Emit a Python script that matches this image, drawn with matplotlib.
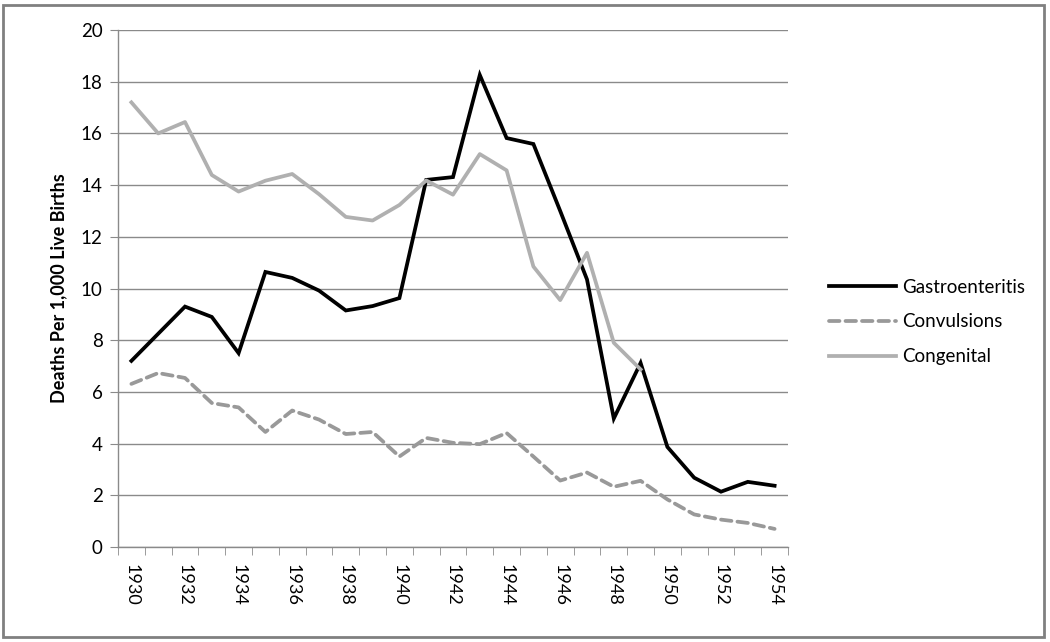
import matplotlib
matplotlib.use("Agg")
import matplotlib.pyplot as plt
from matplotlib.patches import Rectangle

years = list(range(1930, 1955))
year_labels = [str(y) if (y % 2 == 0) else "" for y in years]

gastroenteritis = [7.2, 8.25, 9.3, 8.9, 7.5, 10.64, 10.41, 9.92, 9.15, 9.32, 9.63,
                   14.2, 14.31, 18.26, 15.82, 15.59, 13.0, 10.35, 4.97, 7.12,
                   3.87, 2.68, 2.14, 2.52, 2.37]
convulsions = [6.31, 6.73, 6.54, 5.57, 5.4, 4.45, 5.28, 4.93, 4.37, 4.45, 3.5,
               4.22, 4.03, 3.98, 4.41, 3.5, 2.57, 2.88, 2.33, 2.56,
               1.84, 1.26, 1.06, 0.93, 0.7]
congenital = [17.2, 16.0, 16.44, 14.39, 13.75, 14.17, 14.43, 13.65, 12.77, 12.63, 13.23,
              14.18, 13.63, 15.2, 14.57, 10.85, 9.55, 11.38, 7.9, 6.87]

plt.rcParams['font.family'] = ['Lato', 'DejaVu Sans']

fig = plt.figure(figsize=(10.5, 6.42), dpi=100)
ax = fig.add_axes([118/1050, 1-547/642, 670/1050, 517/642])

xs = list(range(len(years)))
ax.plot(xs, gastroenteritis, color='black', lw=2.7, label='Gastroenteritis',
        solid_joinstyle='miter')
ax.plot(xs, convulsions, color='#999999', lw=2.7, ls=(0, (2.8, 1.6)),
        label='Convulsions', dash_capstyle='round')
ax.plot(xs[:len(congenital)], congenital, color='#b0b0b0', lw=2.7,
        label='Congenital')

ax.set_xlim(-0.5, len(years) - 0.5)
ax.set_ylim(0, 20)
ax.set_yticks(range(0, 21, 2))
ax.yaxis.grid(True, color='#8a8a8a', lw=1)
ax.set_axisbelow(True)

ax.set_xticks(xs)
ax.set_xticklabels(year_labels, rotation=-90, fontsize=13)
ax.set_xticks([x - 0.5 for x in xs] + [len(years) - 0.5], minor=True)
ax.tick_params(axis='x', which='major', length=0, pad=12)
ax.tick_params(axis='x', which='minor', length=6, color='#8a8a8a', direction='out')
ax.tick_params(axis='y', length=6, color='#8a8a8a', labelsize=13.5, pad=5)

for s in ['top', 'right']:
    ax.spines[s].set_visible(False)
for s in ['left', 'bottom']:
    ax.spines[s].set_color('#8a8a8a')
    ax.spines[s].set_linewidth(1)

ax.set_ylabel('Deaths Per 1,000 Live Births', fontsize=13, fontweight='bold',
              labelpad=10)

leg = fig.legend(loc='center left', bbox_to_anchor=(812/1050, 1-322/642),
                 frameon=False, fontsize=13.5, handlelength=3.6,
                 labelspacing=0.95, handletextpad=0.3)

fig.text(148/1050, 1 + 5/642, 'Figure 4. Mortality by Cause', family='Liberation Serif',
         fontsize=13, va='baseline', ha='left', fontweight='bold')

fig.patches.append(Rectangle((3/1050, 1-637/642), 1041/1050, 632/642,
                             transform=fig.transFigure, fill=False,
                             edgecolor='#808080', lw=2))

fig.savefig('out.png', dpi=100)
